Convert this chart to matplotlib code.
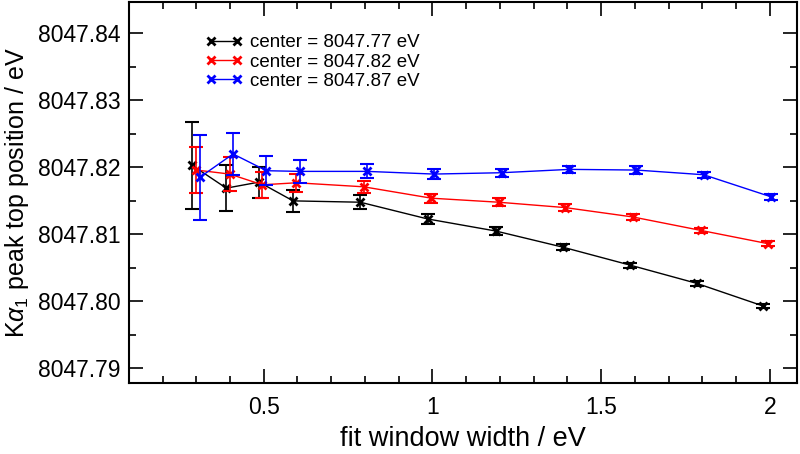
import numpy as np
import matplotlib
matplotlib.use('Agg')
from matplotlib import pyplot as plt
from matplotlib.ticker import MultipleLocator, FuncFormatter

plt.rcParams['font.family'] = ['Liberation Sans', 'DejaVu Sans']
plt.rcParams['mathtext.fontset'] = 'custom'
plt.rcParams['mathtext.rm'] = 'Liberation Sans'
plt.rcParams['mathtext.it'] = 'Liberation Sans:italic'

labels = ['center = 8047.77 eV', 'center = 8047.82 eV', 'center = 8047.87 eV']
colors = ['black', 'red', 'blue']

x_black = [0.288, 0.389, 0.486, 0.587, 0.786, 0.986, 1.188, 1.386, 1.587, 1.783, 1.981]
y_black = [8047.8203, 8047.8169, 8047.8178, 8047.8150, 8047.8148, 8047.8123,
           8047.8105, 8047.8081, 8047.8054, 8047.8027, 8047.7993]
e_black = [0.0065, 0.0034, 0.0023, 0.0016, 0.00105, 0.0008, 0.0006, 0.0005,
           0.0004, 0.0004, 0.00035]

x_red = [0.300, 0.399, 0.496, 0.597, 0.796, 0.997, 1.196, 1.393, 1.594, 1.795, 1.996]
y_red = [8047.8196, 8047.8190, 8047.8174, 8047.8177, 8047.8171, 8047.8154,
         8047.8148, 8047.8140, 8047.8126, 8047.8106, 8047.8086]
e_red = [0.0034, 0.0025, 0.0019, 0.00135, 0.0009, 0.0007, 0.0006, 0.0005,
         0.0005, 0.0004, 0.0004]

x_blue = [0.310, 0.409, 0.508, 0.607, 0.806, 1.004, 1.205, 1.406, 1.604, 1.804, 2.004]
y_blue = [8047.8185, 8047.8220, 8047.8195, 8047.8194, 8047.8194, 8047.8190,
          8047.8192, 8047.8197, 8047.8196, 8047.8189, 8047.8156]
e_blue = [0.0063, 0.0031, 0.0022, 0.0017, 0.00105, 0.0008, 0.0006, 0.00055,
          0.00055, 0.00047, 0.0005]

series = [(x_black, y_black, e_black), (x_red, y_red, e_red), (x_blue, y_blue, e_blue)]

fig = plt.figure(figsize=(8, 4.54), dpi=100)
ax = fig.add_axes((0.161, 0.156, 0.835, 0.84))

for (xs, ys, es), c, lab in zip(series, colors, labels):
    ax.errorbar(xs, ys, yerr=es, fmt='none', ecolor=c, elinewidth=1.2,
                capsize=5, capthick=1.5)
    ax.plot(xs, ys, color=c, lw=1, marker='x', markersize=5.5, mew=2, label=lab)

ax.set_xlim(0.1, 2.08)
ax.set_ylim(8047.7878, 8047.8447)
ax.xaxis.set_major_locator(MultipleLocator(0.5))
ax.xaxis.set_minor_locator(MultipleLocator(0.1))
ax.yaxis.set_major_locator(MultipleLocator(0.01))
ax.yaxis.set_minor_locator(MultipleLocator(0.005))
ax.xaxis.set_major_formatter(FuncFormatter(lambda v, p: '%g' % v))
ax.yaxis.set_major_formatter(FuncFormatter(lambda v, p: '%.2f' % v))
ax.tick_params(which='both', direction='in', top=True, right=True, width=1.2)
ax.tick_params(which='major', length=10, labelsize=16.5)
ax.tick_params(axis='x', which='major', pad=9)
ax.tick_params(axis='y', which='major', pad=6)
ax.tick_params(which='minor', length=5)
for s in ax.spines.values():
    s.set_linewidth(1.5)

ax.set_xlabel('fit window width / eV', fontsize=19.5, labelpad=5)
ax.set_ylabel(r'K$\alpha_1$ peak top position / eV', fontsize=18, labelpad=5)

ax.legend(loc='upper left', bbox_to_anchor=(0.235, 0.962), bbox_transform=fig.transFigure,
          frameon=False, numpoints=2, handlelength=2.0, fontsize=13.5,
          labelspacing=0.12, handletextpad=0.4)

fig.savefig('out.png')
